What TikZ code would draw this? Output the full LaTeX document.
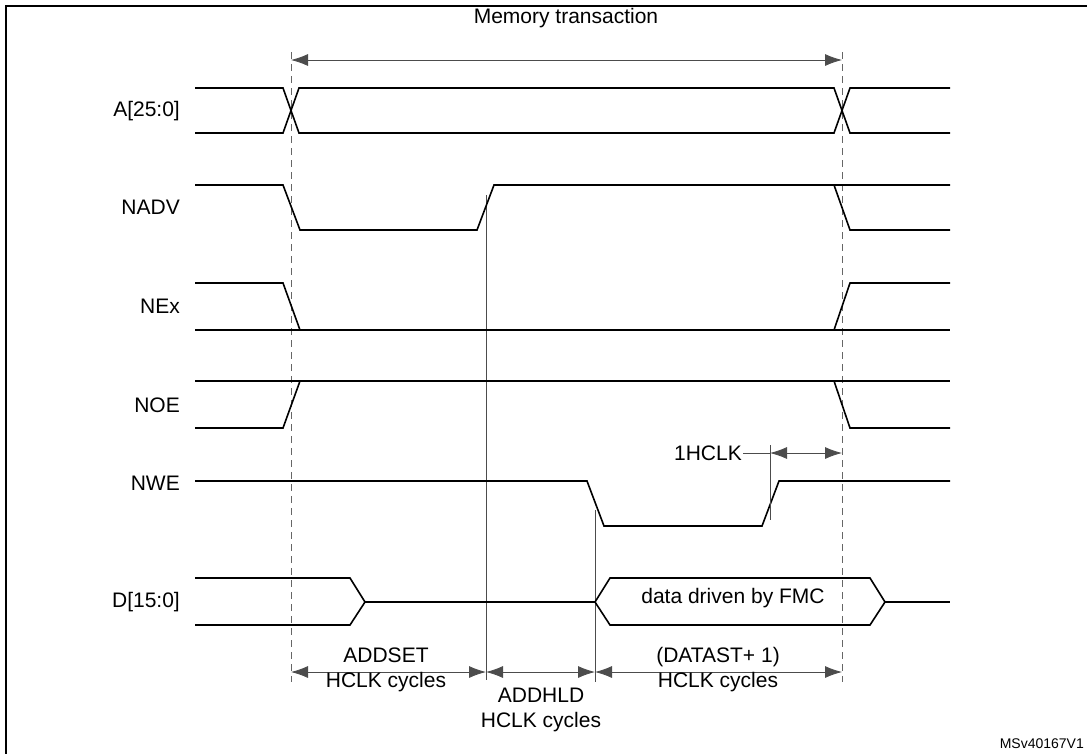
\documentclass[tikz,border=0pt]{standalone}
\usepackage{fontspec}
\setmainfont{Liberation Sans}
\usetikzlibrary{arrows.meta}
\begin{document}
\begin{tikzpicture}[x=1pt,y=-1pt,
  sig/.style={black,line width=1.6pt},
  guide/.style={black!70,line width=0.8pt},
  dguide/.style={black!60,line width=0.9pt,dash pattern=on 7pt off 5pt},
  dim/.style={black!70,line width=0.8pt,{Latex[length=17pt,width=12pt]}-{Latex[length=17pt,width=12pt]}},
  lbl/.style={font=\fontsize{21}{25}\selectfont,align=center,inner sep=1pt}]
  \useasboundingbox (0,0) rectangle (1087,753);
  \draw [line width=1.8pt] (6,6) rectangle (1100,770);
  % guides
  \draw [dguide] (291,52) -- (291,682);
  \draw [dguide] (842,52) -- (842,682);
  \draw [guide] (486,195) -- (486,680);
  \draw [guide] (595,510) -- (595,682);
  % signal names
  \node [lbl,anchor=east] (nA) at (181,111) {A[25:0]};
  \node [lbl,anchor=east] (nNADV) at (181,207) {NADV};
  \node [lbl,anchor=east] (nNEx) at (181,306) {NEx};
  \node [lbl,anchor=east] (nNOE) at (181,405) {NOE};
  \node [lbl,anchor=east] (nNWE) at (181,483) {NWE};
  \node [lbl,anchor=east] (nD) at (181,602) {D[15:0]};
  % A[25:0]
  \draw [sig] (195,88) -- (283,88) -- (299,133) -- (834,133) -- (850,88) -- (950,88);
  \draw [sig] (195,133) -- (283,133) -- (299,88) -- (834,88) -- (850,133) -- (950,133);
  % NADV
  \draw [sig] (195,185) -- (283,185) -- (300,230) -- (477,230) -- (494,185) -- (950,185);
  \draw [sig] (834,185) -- (850,230) -- (950,230);
  % NEx
  \draw [sig] (195,283) -- (283,283) -- (300,330);
  \draw [sig] (195,330) -- (950,330);
  \draw [sig] (834,330) -- (850,283) -- (950,283);
  % NOE
  \draw [sig] (195,428) -- (283,428) -- (300,381);
  \draw [sig] (195,381) -- (950,381);
  \draw [sig] (834,381) -- (850,428) -- (950,428);
  % NWE
  \draw [sig] (195,481) -- (587,481) -- (604,526) -- (762,526) -- (779,481) -- (950,481);
  % D[15:0]
  \draw [sig] (195,578) -- (350,578) -- (365,602) -- (350,625) -- (195,625);
  \draw [sig] (365,602) -- (595,602);
  \draw [sig] (610,578) -- (595,602) -- (610,625) -- (870,625) -- (885,602) -- (870,578) -- cycle;
  \draw [sig] (885,602) -- (950,602);
  \node [lbl] (data) at (733,598) {data driven by FMC};
  % dimensions
  \node [lbl] (mem) at (566,18) {Memory transaction};
  \draw [dim] (291,60) -- (842,60);
  \coordinate (h1) at (770,453);
  \coordinate (h2) at (842,453);
  \draw [guide] (770,445) -- (770,520);
  \node [lbl,anchor=east] (hclk) at (743,453) {1HCLK};
  \draw [guide] (hclk.east) -- (h1);
  \draw [dim] (h1) -- (h2);
  \draw [dim] (291,672) -- (486,672);
  \draw [dim] (486,672) -- (595,672);
  \draw [dim] (595,672) -- (842,672);
  \node [lbl] (addset) at (386,670) {ADDSET\\HCLK cycles};
  \node [lbl] (addhld) at (541,710) {ADDHLD\\HCLK cycles};
  \node [lbl] (datast) at (718,670) {(DATAST+ 1)\\HCLK cycles};
  \node [font=\fontsize{14}{16}\selectfont,anchor=south east,inner sep=1pt] (ref) at (1085,750) {MSv40167V1};
\end{tikzpicture}
\end{document}
